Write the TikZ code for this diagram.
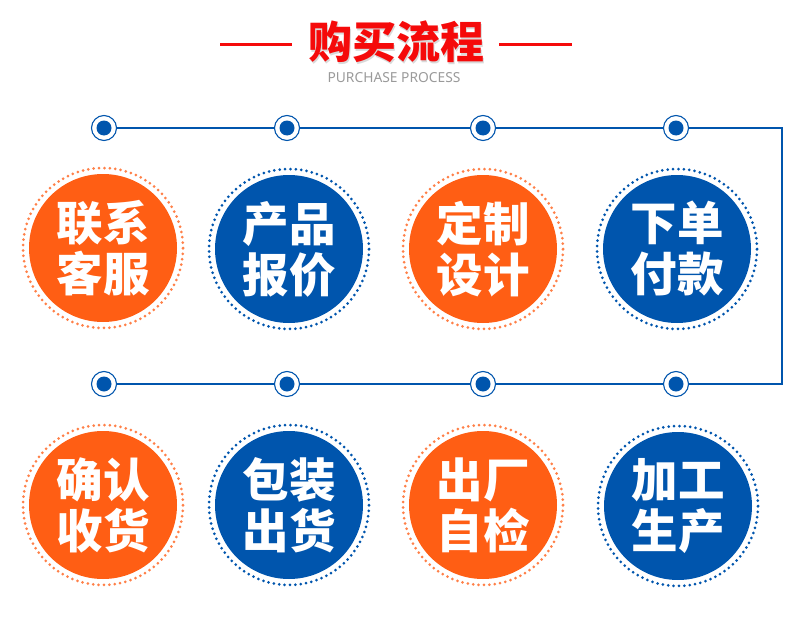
\documentclass[tikz,border=0pt]{standalone}
\usepackage{fontspec}
\newfontfamily\cjk{Noto Sans CJK SC}
\setsansfont{Noto Sans}
\definecolor{myorange}{HTML}{FF5E14}
\definecolor{mydotorange}{HTML}{FF8048}
\definecolor{myblue}{HTML}{0055AD}
\definecolor{myred}{HTML}{F50A0A}
\definecolor{mygray}{HTML}{9A9A9A}
\begin{document}
\begin{tikzpicture}[x=1pt,y=-1pt,
  bigcirc/.style={circle,inner sep=0pt,minimum size=148pt,text=white,align=center,
    font=\cjk\bfseries\fontsize{46.5}{51}\selectfont},
  orangecirc/.style={bigcirc,fill=myorange},
  bluecirc/.style={bigcirc,fill=myblue},
  dotringo/.style={draw=mydotorange,line width=3pt,line cap=round,dash pattern=on 0pt off 5.4pt},
  dotringb/.style={draw=myblue,line width=3pt,line cap=round,dash pattern=on 0pt off 5.4pt},
  marker/.style={circle,draw=myblue,line width=1.1pt,fill=white,minimum size=25pt,inner sep=0pt,
    path picture={\fill[myblue] (path picture bounding box.center) circle (7.5pt);}},
  conn/.style={draw=myblue,line width=2pt},
  titleline/.style={draw=myred,line width=3pt}]
\useasboundingbox (0,0) rectangle (790,626);
% title
\node[text=black!15,font=\cjk\bfseries\fontsize{44}{44}\selectfont] (tshadow) at (397.5,43.5) {购买流程};
\node[text=myred,font=\cjk\bfseries\fontsize{44}{44}\selectfont] (title) at (396,42) {购买流程};
\coordinate (tl1) at (220,45); \coordinate (tl2) at (292,45);
\coordinate (tr1) at (499,45); \coordinate (tr2) at (572,45);
\draw[titleline] (tl1) -- (tl2);
\draw[titleline] (tr1) -- (tr2);
\node[text=mygray,font=\sffamily\fontsize{13.8}{13.8}\selectfont] (sub) at (394,78) {PURCHASE PROCESS};
% markers
\node[marker] (m1) at (104,128) {};
\node[marker] (m2) at (287,128) {};
\node[marker] (m3) at (483,128) {};
\node[marker] (m4) at (676,128) {};
\node[marker] (n1) at (104,384) {};
\node[marker] (n2) at (287,384) {};
\node[marker] (n3) at (483,384) {};
\node[marker] (n4) at (676,384) {};
\coordinate (cTR) at (782,128);
\coordinate (cBR) at (782,384);
\draw[conn] (m1) -- (m2);
\draw[conn] (m2) -- (m3);
\draw[conn] (m3) -- (m4);
\draw[conn] (m4) -- (cTR) -- (cBR) -- (n4);
\draw[conn] (n4) -- (n3);
\draw[conn] (n3) -- (n2);
\draw[conn] (n2) -- (n1);
% row 1
\node[orangecirc] (s1) at (103,248) {联系\\客服};
\node[bluecirc] (s2) at (289,249) {产品\\报价};
\node[orangecirc] (s3) at (483,249) {定制\\设计};
\node[bluecirc] (s4) at (677,249) {下单\\付款};
% row 2
\node[orangecirc] (s5) at (103,505) {确认\\收货};
\node[bluecirc] (s6) at (289,505) {包装\\出货};
\node[orangecirc] (s7) at (483,505) {出厂\\自检};
\node[bluecirc] (s8) at (678,506) {加工\\生产};
% dotted rings
\draw[dotringo] (s1.center) circle (80pt);
\draw[dotringb] (s2.center) circle (80pt);
\draw[dotringo] (s3.center) circle (80pt);
\draw[dotringb] (s4.center) circle (80pt);
\draw[dotringo] (s5.center) circle (80pt);
\draw[dotringb] (s6.center) circle (80pt);
\draw[dotringo] (s7.center) circle (80pt);
\draw[dotringb] (s8.center) circle (80pt);
\end{tikzpicture}
\end{document}
